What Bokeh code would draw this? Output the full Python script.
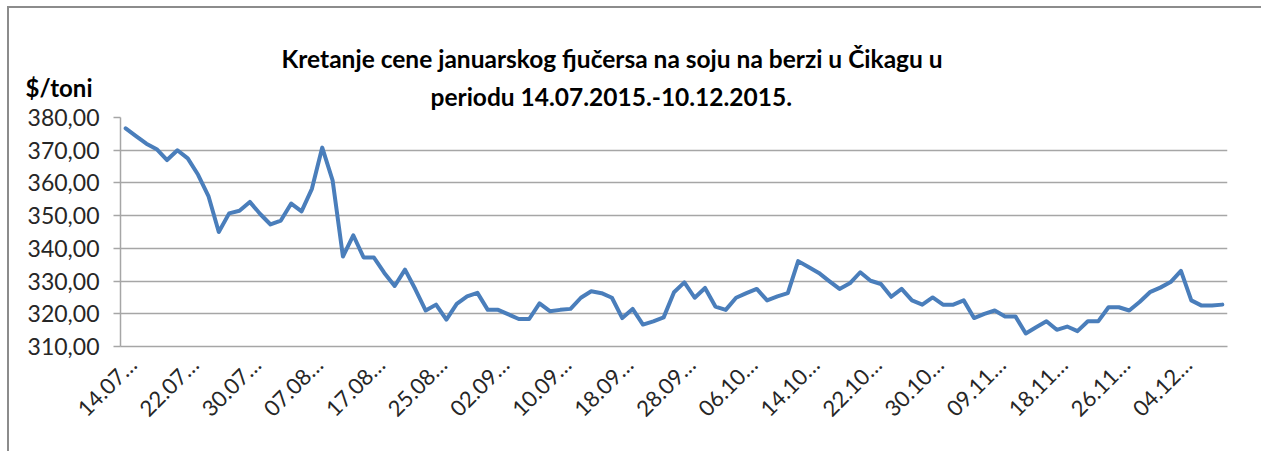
import math
from bokeh.plotting import figure
from bokeh.models import Range1d, FixedTicker, Label, Title
from bokeh.embed import file_html
from bokeh.resources import INLINE

# trading days (categories)
jul_days = ["14", "15", "16", "17", "20", "21", "22", "23", "24", "27", "28", "29", "30", "31"]
aug_days = ["03", "04", "05", "06", "07", "10", "11", "12", "13", "14", "17", "18", "19", "20",
            "21", "24", "25", "26", "27", "28", "31"]
sep_days = ["01", "02", "03", "04", "07", "08", "09", "10", "11", "14", "15", "16", "17", "18",
            "21", "22", "23", "24", "25", "28", "29", "30"]
oct_days = ["01", "02", "05", "06", "07", "08", "09", "12", "13", "14", "15", "16", "19", "20",
            "21", "22", "23", "26", "27", "28", "29", "30"]
nov_days = ["02", "03", "04", "05", "06", "09", "10", "12", "13", "16", "17", "18", "19", "20",
            "23", "24", "25", "26", "27", "30"]
dec_days = ["01", "02", "03", "04", "07", "08", "09", "10"]

dates = ([d + ".07.2015." for d in jul_days] + [d + ".08.2015." for d in aug_days] +
         [d + ".09.2015." for d in sep_days] + [d + ".10.2015." for d in oct_days] +
         [d + ".11.2015." for d in nov_days] + [d + ".12.2015." for d in dec_days])

# price, $/toni
prices = [
    376.7, 374.3, 372.0, 370.3, 367.0, 370.0, 367.5, 362.5, 356.0, 345.0,
    350.7, 351.5, 354.2, 350.5, 347.3, 348.5, 353.7, 351.3, 358.2, 370.8,
    360.8, 337.5, 344.0, 337.2, 337.2, 332.5, 328.5, 333.5, 327.5, 321.0,
    322.8, 318.2, 323.0, 325.3, 326.4, 321.2, 321.2, 319.8, 318.4, 318.4,
    323.2, 320.8, 321.2, 321.5, 324.9, 326.9, 326.3, 324.9, 318.7, 321.5,
    316.7, 317.7, 318.9, 326.6, 329.6, 324.9, 327.9, 322.2, 321.2, 324.9,
    326.3, 327.6, 324.1, 325.3, 326.3, 336.1, 334.3, 332.5, 330.0, 327.6,
    329.3, 332.7, 330.1, 329.1, 325.2, 327.6, 324.1, 322.8, 325.0, 322.8,
    322.8, 324.1, 318.7, 320.0, 321.0, 319.2, 319.2, 314.0, 315.9, 317.7,
    315.1, 316.1, 314.7, 317.7, 317.7, 322.0, 322.0, 321.0, 323.6, 326.6,
    328.0, 329.7, 333.1, 324.1, 322.5, 322.5, 322.8,
]

y_ticks = [310, 320, 330, 340, 350, 360, 370, 380]
y_tick_labels = ["310,00", "320,00", "330,00", "340,00", "350,00", "360,00", "370,00", "380,00"]
label_step = 6

title_line1 = "Kretanje cene januarskog  fjučersa na soju na berzi u Čikagu u"
title_line2 = "periodu 14.07.2015.-10.12.2015."
unit_label = "$/toni"

FONT = "Lato"
LABEL_SHIFT = 0.65  # visual offset of the rotated date labels, in categories

n = len(prices)
idx = list(range(n))
x_ticks = [i + LABEL_SHIFT for i in range(0, n, label_step)]
x_labels = {i + LABEL_SHIFT: dates[i][:5] + "…" for i in range(0, n, label_step)}

p = figure(width=1254, height=445, output_backend="svg", toolbar_location=None,
           x_range=Range1d(-0.5, n - 0.5), y_range=Range1d(310, 380),
           min_border_left=111, min_border_right=36, min_border_top=109, min_border_bottom=107)
p.styles = {"border-left": "2px solid #8c8c8c", "border-top": "2px solid #8c8c8c",
            "margin-left": "7px", "margin-top": "6px"}
p.outline_line_color = None
p.background_fill_color = "white"
p.border_fill_color = "white"

p.line(x=idx, y=prices, line_color="#4a7ebb", line_width=4, line_join="round", line_cap="round")

p.xgrid.visible = False
p.ygrid.ticker = FixedTicker(ticks=y_ticks)
p.ygrid.grid_line_color = "#a6a6a6"
p.ygrid.grid_line_width = 1.5

ya = p.yaxis[0]
ya.ticker = FixedTicker(ticks=y_ticks)
ya.major_label_overrides = dict(zip(y_ticks, y_tick_labels))
ya.major_label_text_font = FONT
ya.major_label_text_font_size = "23px"
ya.major_label_text_color = "#262626"
ya.axis_line_color = "#a6a6a6"
ya.axis_line_width = 1.5
ya.major_tick_line_color = "#a6a6a6"
ya.major_tick_line_width = 1.5
ya.major_tick_out = 7
ya.major_tick_in = 0
ya.minor_tick_line_color = None
ya.major_label_standoff = 14

xa = p.xaxis[0]
xa.ticker = FixedTicker(ticks=x_ticks)
xa.major_label_overrides = x_labels
xa.major_label_orientation = math.pi / 4
xa.major_label_text_font = FONT
xa.major_label_text_font_size = "22px"
xa.major_label_text_color = "#262626"
xa.axis_line_color = "#a6a6a6"
xa.axis_line_width = 1.5
xa.major_tick_out = 0
xa.major_tick_in = 0
xa.minor_tick_line_color = None
xa.major_label_standoff = 14

t2 = Title(text=title_line2, align="left", offset=310, text_font=FONT, text_font_style="bold",
           text_font_size="24.5px", text_color="#000000", standoff=14)
t1 = Title(text=title_line1, align="left", offset=161, text_font=FONT, text_font_style="bold",
           text_font_size="24.5px", text_color="#000000", standoff=0)
p.add_layout(t2, "above")
p.add_layout(t1, "above")
p.add_layout(Label(x=-95, y=-46, x_units="screen", y_units="screen", text=unit_label,
                   text_font=FONT, text_font_style="bold", text_font_size="24px",
                   text_align="left", text_baseline="middle", text_color="#000000"), "above")

open("out.html", "w").write(file_html(p, INLINE))
